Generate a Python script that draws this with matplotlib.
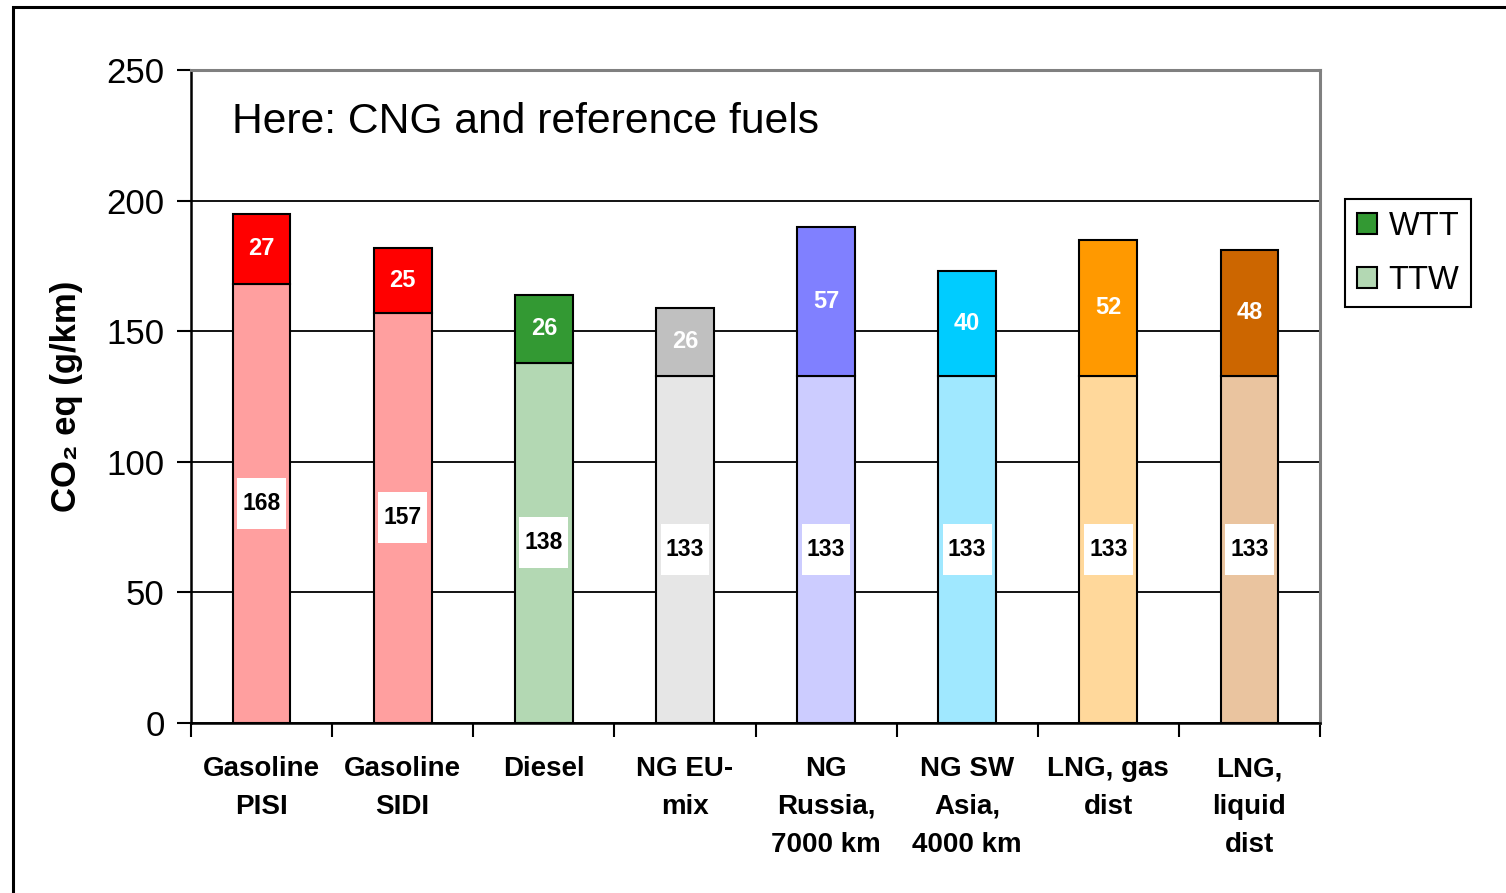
import matplotlib
matplotlib.use("Agg")
import matplotlib.pyplot as plt
from matplotlib.patches import Rectangle, Patch
import numpy as np

plt.rcParams['font.family'] = ['Liberation Sans', 'DejaVu Sans']

categories = ["Gasoline\nPISI", "Gasoline\nSIDI", "Diesel", "NG EU-\nmix",
              "NG\nRussia,\n7000 km", "NG SW\nAsia,\n4000 km", "LNG, gas\ndist",
              "LNG,\nliquid\ndist"]
ttw = [168, 157, 138, 133, 133, 133, 133, 133]
wtt = [27, 25, 26, 26, 57, 40, 52, 48]
wtt_colors = ["#FF0000", "#FF0000", "#339933", "#C0C0C0", "#8080FF", "#00CCFF", "#FF9900", "#CC6600"]
ttw_colors = ["#FF9F9F", "#FF9F9F", "#B3D8B3", "#E6E6E6", "#CCCCFF", "#A0E8FF", "#FFD89B", "#EAC49F"]

fig = plt.figure(figsize=(15.06, 8.93), dpi=100)
ax = fig.add_axes([191/1506, 170/893, 1129/1506, 653/893])

# outer frame of the original chart object
fig.patches.append(Rectangle((13/1506, -0.1), 1.2, (893-7)/893 + 0.1, transform=fig.transFigure,
                             fill=False, edgecolor="black", linewidth=2.2))

x = np.arange(len(categories))
w = 0.41
ax.bar(x, ttw, width=w, color=ttw_colors, edgecolor="black", linewidth=1.5, zorder=3)
ax.bar(x, wtt, width=w, bottom=ttw, color=wtt_colors, edgecolor="black", linewidth=1.5, zorder=3)

# white label boxes behind the TTW numbers (Excel style, taller than wide)
box_w, box_h = 0.345, 19.5
for i in range(len(categories)):
    ax.add_patch(Rectangle((x[i] - box_w / 2, ttw[i] / 2 - box_h / 2), box_w, box_h,
                           facecolor="white", edgecolor="none", zorder=4))
    ax.text(x[i], ttw[i] / 2, str(ttw[i]), ha="center", va="center", fontsize=16.5,
            fontweight="bold", color="black", zorder=5)
    ax.text(x[i], ttw[i] + wtt[i] / 2, str(wtt[i]), ha="center", va="center", fontsize=17,
            fontweight="bold", color="white", zorder=5)

ax.set_xlim(-0.5, len(categories) - 0.5)
ax.set_ylim(0, 250)
ax.set_yticks([0, 50, 100, 150, 200, 250])
ax.tick_params(axis="y", labelsize=25, length=10, width=1.5, direction="out", pad=9)
ax.set_xticks(x)
ax.set_xticklabels(categories, fontsize=20, fontweight="bold", linespacing=1.58)
ax.tick_params(axis="x", which="major", length=0, pad=24)
ax.set_xticks(np.arange(-0.5, len(categories)), minor=True)
ax.tick_params(axis="x", which="minor", length=10, width=1.5, direction="out")

ax.yaxis.grid(True, color="black", linewidth=1.3, zorder=0)
ax.set_axisbelow(True)
for s in ["left", "bottom"]:
    ax.spines[s].set_color("black")
    ax.spines[s].set_linewidth(1.8)
for s in ["top", "right"]:
    ax.spines[s].set_color("#808080")
    ax.spines[s].set_linewidth(2.2)

ax.set_ylabel("CO₂ eq (g/km)", fontsize=25, fontweight="bold", labelpad=17)

ax.text(0.036, 0.921, "Here: CNG and reference fuels", transform=ax.transAxes,
        fontsize=30.7, ha="left", va="center")

handles = [Patch(facecolor="#339933", edgecolor="black", linewidth=1.5, label="WTT"),
           Patch(facecolor="#B3D8B3", edgecolor="black", linewidth=1.5, label="TTW")]
leg = fig.legend(handles=handles, loc="upper left", bbox_to_anchor=(1345/1506, (893-199)/893),
                 bbox_transform=fig.transFigure, borderaxespad=0, fontsize=23.5,
                 handlelength=0.62, handleheight=0.62, handletextpad=0.35,
                 labelspacing=0.7, borderpad=0.36, fancybox=False, framealpha=1)
leg.get_frame().set_edgecolor("black")
leg.get_frame().set_linewidth(1.5)

fig.savefig("out.png", dpi=100)
